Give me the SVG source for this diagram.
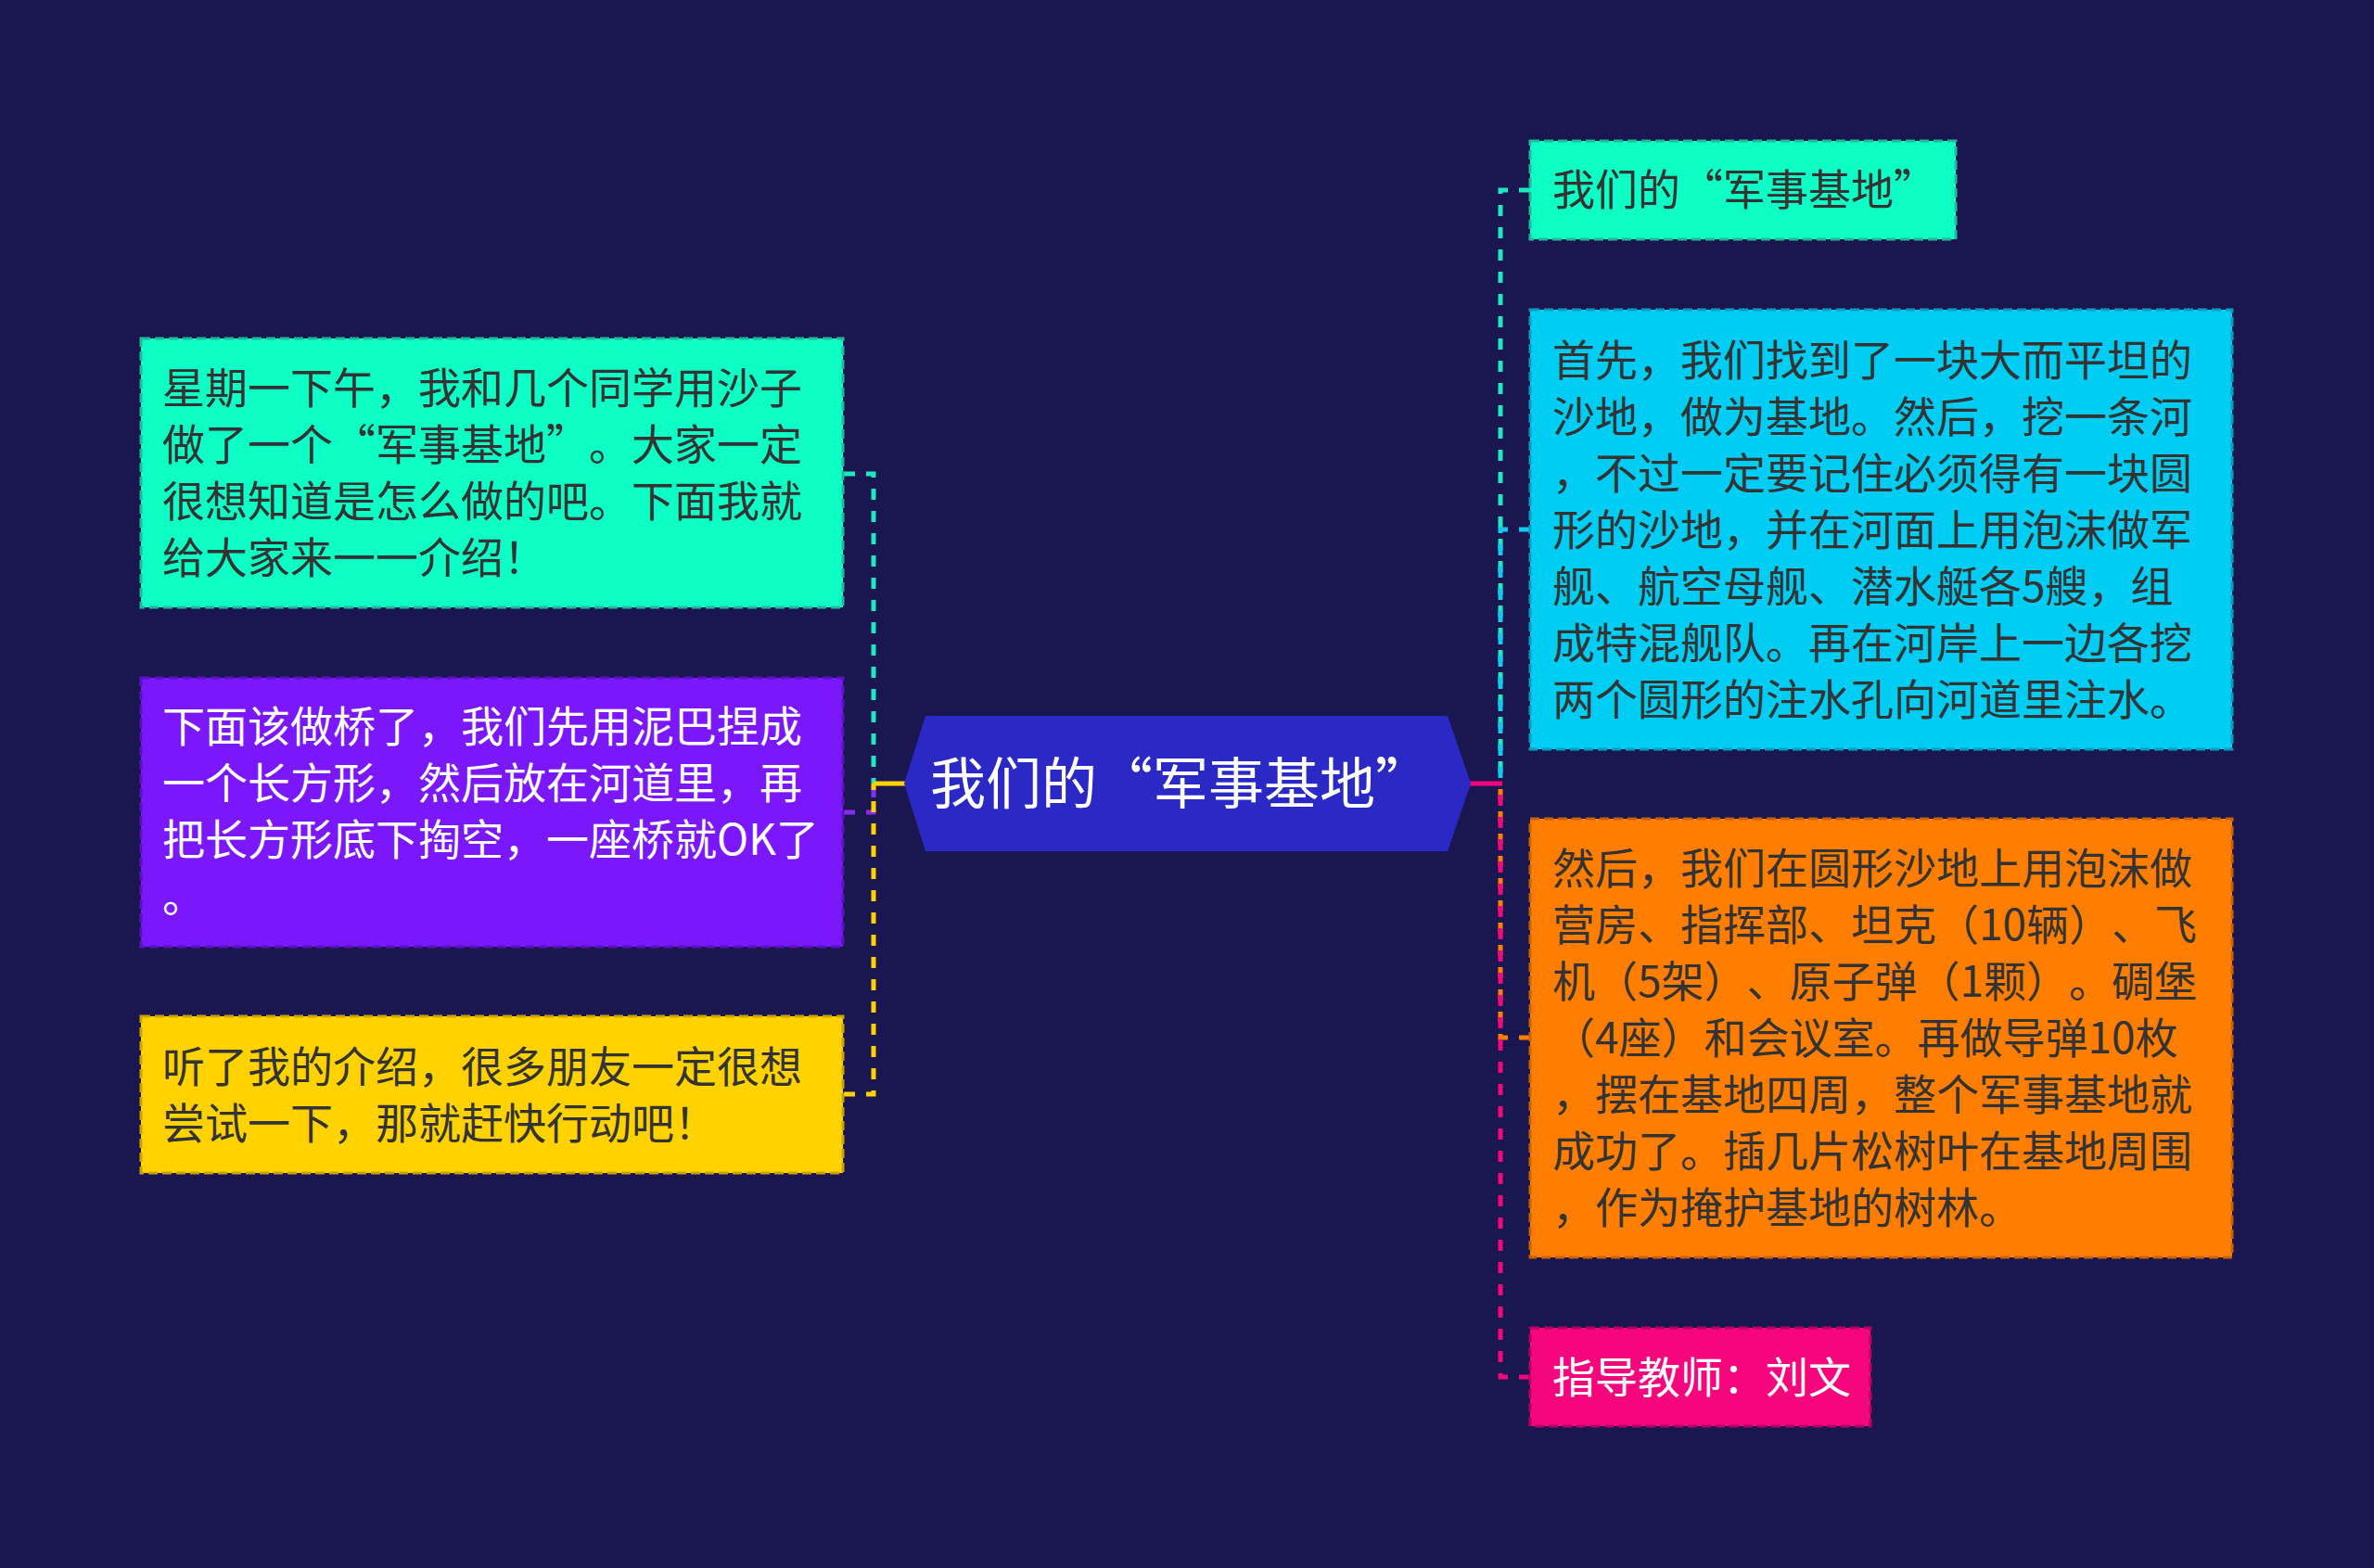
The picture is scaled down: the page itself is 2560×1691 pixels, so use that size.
<svg xmlns="http://www.w3.org/2000/svg" width="2560" height="1691" viewBox="0 0 2560 1691">
<style>
.t{font-family:"Noto Sans CJK SC","Noto Sans",sans-serif;font-size:46px;text-spacing-trim:space-all;font-feature-settings:"halt" 0,"chws" 0;}
.dk{fill:#333333;}
.wh{fill:#ffffff;}
.box{stroke-width:3;stroke-dasharray:10 5;}
.con{fill:none;stroke-width:5;stroke-dasharray:12 12;}
</style>
<rect x="0" y="0" width="2560" height="1691" fill="#1a1750"/>
<g id="connectors">
<path class="con" d="M910 511 H942 V845" stroke="#1de9bf"/>
<path class="con" d="M910 876 H942 V845" stroke="#8a2cf0"/>
<path class="con" d="M910 1180 H942 V845" stroke="#ffd200"/>
<path d="M942 845 H976" stroke="#ffd200" stroke-width="5" fill="none"/>
<path class="con" d="M1650 205 H1618 V845" stroke="#1de9bf"/>
<path class="con" d="M1650 571 H1618 V845" stroke="#12c8ee"/>
<path class="con" d="M1650 1119 H1618 V845" stroke="#ff7e00"/>
<path class="con" d="M1650 1485 H1618 V845" stroke="#f5067d"/>
<path d="M1585 845 H1620" stroke="#f5067d" stroke-width="5" fill="none"/>
</g>
<g id="center">
<polygon points="975,845 998,772 1561,772 1586,845 1561,918 998,918" fill="#2a29c6"/>
<text class="t wh" x="1003" y="867" style="font-size:60px">我们的“军事基地”</text>
</g>
<g id="node-l1">
<rect class="box" x="152" y="365" width="757" height="290" fill="#0effc5" stroke="#22b99a"/>
<text class="t dk" x="175" y="435">星期一下午，我和几个同学用沙子</text>
<text class="t dk" x="175" y="496">做了一个“军事基地”。大家一定</text>
<text class="t dk" x="175" y="557">很想知道是怎么做的吧。下面我就</text>
<text class="t dk" x="175" y="618">给大家来一一介绍！</text>
</g>
<g id="node-l2">
<rect class="box" x="152" y="731" width="757" height="290" fill="#7a18fb" stroke="#5a12c0"/>
<text class="t wh" x="175" y="800">下面该做桥了，我们先用泥巴捏成</text>
<text class="t wh" x="175" y="861">一个长方形，然后放在河道里，再</text>
<text class="t wh" x="175" y="922">把长方形底下掏空，一座桥就OK了</text>
<text class="t wh" x="175" y="983">。</text>
</g>
<g id="node-l3">
<rect class="box" x="152" y="1096" width="757" height="169" fill="#ffd200" stroke="#c9a400"/>
<text class="t dk" x="175" y="1167">听了我的介绍，很多朋友一定很想</text>
<text class="t dk" x="175" y="1228">尝试一下，那就赶快行动吧！</text>
</g>
<g id="node-r1">
<rect class="box" x="1650" y="152" width="459" height="106" fill="#0effc5" stroke="#22b99a"/>
<text class="t dk" x="1674" y="221">我们的“军事基地”</text>
</g>
<g id="node-r2">
<rect class="box" x="1650" y="334" width="757" height="474" fill="#00cdf4" stroke="#0a9dc0"/>
<text class="t dk" x="1674" y="405">首先，我们找到了一块大而平坦的</text>
<text class="t dk" x="1674" y="466">沙地，做为基地。然后，挖一条河</text>
<text class="t dk" x="1674" y="527">，不过一定要记住必须得有一块圆</text>
<text class="t dk" x="1674" y="588">形的沙地，并在河面上用泡沫做军</text>
<text class="t dk" x="1674" y="649">舰、航空母舰、潜水艇各5艘，组</text>
<text class="t dk" x="1674" y="710">成特混舰队。再在河岸上一边各挖</text>
<text class="t dk" x="1674" y="771">两个圆形的注水孔向河道里注水。</text>
</g>
<g id="node-r3">
<rect class="box" x="1650" y="883" width="757" height="473" fill="#ff7e00" stroke="#c96200"/>
<text class="t dk" x="1674" y="953">然后，我们在圆形沙地上用泡沫做</text>
<text class="t dk" x="1674" y="1014">营房、指挥部、坦克（10辆）、飞</text>
<text class="t dk" x="1674" y="1075">机（5架）、原子弹（1颗）。碉堡</text>
<text class="t dk" x="1674" y="1136">（4座）和会议室。再做导弹10枚</text>
<text class="t dk" x="1674" y="1197">，摆在基地四周，整个军事基地就</text>
<text class="t dk" x="1674" y="1258">成功了。插几片松树叶在基地周围</text>
<text class="t dk" x="1674" y="1319">，作为掩护基地的树林。</text>
</g>
<g id="node-r4">
<rect class="box" x="1650" y="1432" width="367" height="106" fill="#f5067d" stroke="#b80060"/>
<text class="t wh" x="1674" y="1502">指导教师：刘文</text>
</g>
</svg>
